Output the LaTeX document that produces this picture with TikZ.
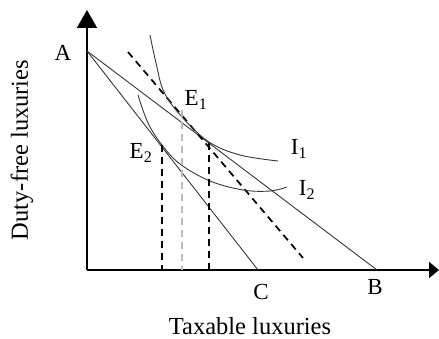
\documentclass[tikz,border=0pt]{standalone}
\usepackage{fontspec}
\setmainfont{Liberation Serif}
\usetikzlibrary{arrows.meta}
\definecolor{cline}{RGB}{55,55,55}
\definecolor{cguide}{RGB}{185,185,185}

\begin{document}
\begin{tikzpicture}[x=1pt,y=-1pt,
  lab/.style={font=\fontsize{23}{26}\selectfont,inner sep=0pt},
  axis/.style={line width=1.9pt},
  budget/.style={cline,line width=0.9pt},
  icurve/.style={cline,line width=0.9pt},
  guide/.style={line width=1.7pt,dash pattern=on 7pt off 5pt}]
 \useasboundingbox (0,0) rectangle (439,339);
 % ---- axes ----
 \coordinate (O) at (87,270);
 \coordinate (ytop) at (87,10);
 \coordinate (xend) at (439,270);
 \draw[axis,-{Triangle[length=18pt,width=20pt]}] (O) -- (ytop);
 \draw[axis,-{Triangle[length=10pt,width=16pt]}] (O) -- (xend);
 % ---- budget lines ----
 \coordinate (A) at (87,51);
 \coordinate (B) at (377,270);
 \coordinate (C) at (258,270);
 \draw[budget] (A) -- (B);
 \draw[budget] (A) -- (C);
 % compensated line, parallel to AC
 \coordinate (D1) at (128,52);
 \coordinate (D2) at (303,258);
 \draw[guide] (D1) -- (D2);
 % ---- indifference curves ----
 \draw[icurve] plot[smooth,tension=0.6] coordinates
   {(150,35) (156,63) (164,92) (182,117) (209,142) (240,155) (278,161)};
 \draw[icurve] plot[smooth,tension=0.6] coordinates
   {(138,95) (148,123) (162,145) (180,164) (210,181) (243,190) (270,191) (287,187)};
 % ---- equilibrium points and drop lines ----
 \coordinate (E1) at (209,143);
 \coordinate (E2) at (162,145);
 \coordinate (G) at (182,110);
 \draw[guide] (E2) -- (E2 |- O);
 \draw[guide] (E1) -- (E1 |- O);
 \draw[guide,cguide] (G) -- (G |- O);
 % ---- labels ----
 \node[lab] (lA) at (63,53) {A};
 \node[lab] (lB) at (375,287) {B};
 \node[lab] (lC) at (261,292) {C};
 \node[lab] (lE1) at (196,100) {E\textsubscript{1}};
 \node[lab] (lE2) at (141,153) {E\textsubscript{2}};
 \node[lab] (lI1) at (299,149) {I\textsubscript{1}};
 \node[lab] (lI2) at (307,190) {I\textsubscript{2}};
 \node[font=\fontsize{24.5}{28}\selectfont] (xlab) at (250,326) {Taxable luxuries};
 \node[font=\fontsize{24.5}{28}\selectfont,rotate=90] (ylab) at (22,150) {Duty-free luxuries};
\end{tikzpicture}
\end{document}
